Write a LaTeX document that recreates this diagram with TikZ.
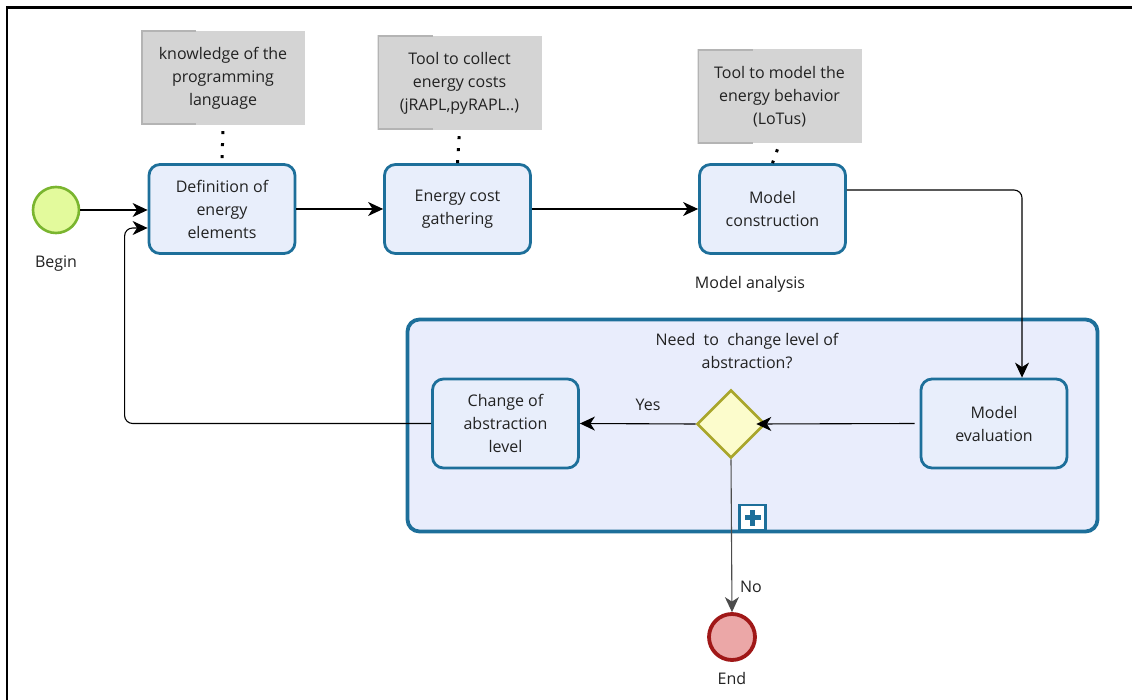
\documentclass[tikz,border=0pt]{standalone}
\usepackage{fontspec}
\setmainfont{Open Sans}
\usetikzlibrary{arrows.meta,shapes.geometric,calc}

\definecolor{taskblue}{HTML}{1D6F9A}
\definecolor{taskfill}{HTML}{E8EEFB}
\definecolor{subfill}{HTML}{E9EDFC}
\definecolor{annofill}{HTML}{D4D4D4}
\definecolor{annoedge}{HTML}{B4B4B4}
\definecolor{startfill}{HTML}{E3FA9C}
\definecolor{startline}{HTML}{7AB52F}
\definecolor{endfill}{HTML}{EBA7A7}
\definecolor{endline}{HTML}{A01818}
\definecolor{gwfill}{HTML}{FCFCCC}
\definecolor{gwline}{HTML}{A9A62B}
\definecolor{txt}{HTML}{222222}

\tikzset{
  every node/.style={font=\fontsize{16}{23}\selectfont, text=txt},
  task/.style={draw=taskblue, fill=taskfill, line width=2.8pt, rounded corners=11pt,
    minimum width=146pt, minimum height=89pt, align=center, inner sep=0pt},
  annot/.style={fill=annofill, minimum width=164pt, minimum height=94pt, align=center,
    inner sep=0pt,
    path picture={\draw[annoedge, line width=3pt]
      ([xshift=55pt]path picture bounding box.north west) -| (path picture bounding box.south west)
      -- ([xshift=55pt]path picture bounding box.south west);}},
  flow/.style={line width=1.1pt, draw=black,
    -{Stealth[length=15pt,width=14pt,inset=4.5pt]}},
  assoc/.style={line width=3pt, dash pattern=on 3pt off 9pt, dash phase=-6pt},
  label/.style={inner sep=0pt, align=center},
}

\begin{document}
\begin{tikzpicture}[x=1pt,y=-1pt]
  \useasboundingbox (0,0) rectangle (1132,700);
  \fill[white] (0,0) rectangle (1132,700);

  % page frame
  \draw[line width=2.5pt] (7,700) -- (7,7.5) -- (1132,7.5);

  % sub-process
  \node[draw=taskblue, fill=subfill, line width=3.8pt, rounded corners=12pt,
        minimum width=690pt, minimum height=212pt] (sub) at (752.5,425.5) {};
  \node[label] (subtitle) at (747,351) {Need\ \ to\ \ change level of\\abstraction?};
  \node[draw=taskblue, fill=white, line width=2.4pt, minimum width=26pt, minimum height=25pt,
        inner sep=0pt, anchor=south] (plus) at ([yshift=2pt]sub.south -| 752.5,0) {};
  \fill[taskblue] ($(plus.center)+(-8,-2.3)$) rectangle ($(plus.center)+(8,2.3)$);
  \fill[taskblue] ($(plus.center)+(-2.3,-8)$) rectangle ($(plus.center)+(2.3,8)$);
  \node[label] (analysis) at (750,284) {Model analysis};

  % events
  \node[circle, draw=startline, fill=startfill, line width=2.6pt, minimum size=46pt] (begin) at (56,210) {};
  \node[label] (beginlbl) at (56,264) {Begin};
  \node[circle, draw=endline, fill=endfill, line width=3.8pt, minimum size=46pt] (end) at (732,637) {};
  \node[label] (endlbl) at (732,678) {End};

  % tasks
  \node[task] (t1) at (222,209) {Definition of\\energy\\elements};
  \node[task] (t2) at (457.5,209) {Energy cost\\gathering};
  \node[task] (t3) at (772.5,209) {Model\\construction};
  \node[task] (eval) at (994,423.5) {Model\\evaluation};
  \node[task] (change) at (505.5,423.5) {Change of\\abstraction\\level};

  % gateway
  \node[diamond, draw=gwline, fill=gwfill, line width=2.6pt, minimum width=68pt,
        minimum height=68pt, inner sep=0pt] (gw) at (731,424) {};

  % annotations
  \node[annot] (a1) at (223,78) {knowledge of the\\programming\\language};
  \node[annot] (a2) at (459.5,83) {Tool to collect\\energy costs\\(jRAPL,pyRAPL..)};
  \node[annot] (a3) at (779.5,96.5) {Tool to model the\\energy behavior\\(LoTus)};

  \draw[assoc] (a1.south) -- (t1.north);
  \draw[assoc] (a2.south) -- (t2.north);
  \draw[assoc] (a3.south) -- (t3.north);

  % sequence flows
  \draw[flow] (begin.east) -- (begin.east -| t1.west);
  \draw[flow] (t1.east) -- (t2.west);
  \draw[flow] (t2.east) -- (t3.west);
  \draw[flow, rounded corners=8pt] ($(t3.east)+(0,-19)$) -| ($(eval.north)+(28,0)$);
  \draw[flow] ($(eval.west)+(-5,0)$) -- ($(gw.east)+(-10,0)$);
  \draw[flow] (gw.west) -- (change.east);
  \node[label] (yes) at (648,405) {Yes};
  \draw[flow, draw=black!70] (gw.south) -- (end.north);
  \node[label] (no) at (751,587) {No};
  \draw[flow, rounded corners=8pt] (change.west) -| ($(t1.west)+(-23,19)$) -- ($(t1.west)+(0,19)$);
\end{tikzpicture}
\end{document}
